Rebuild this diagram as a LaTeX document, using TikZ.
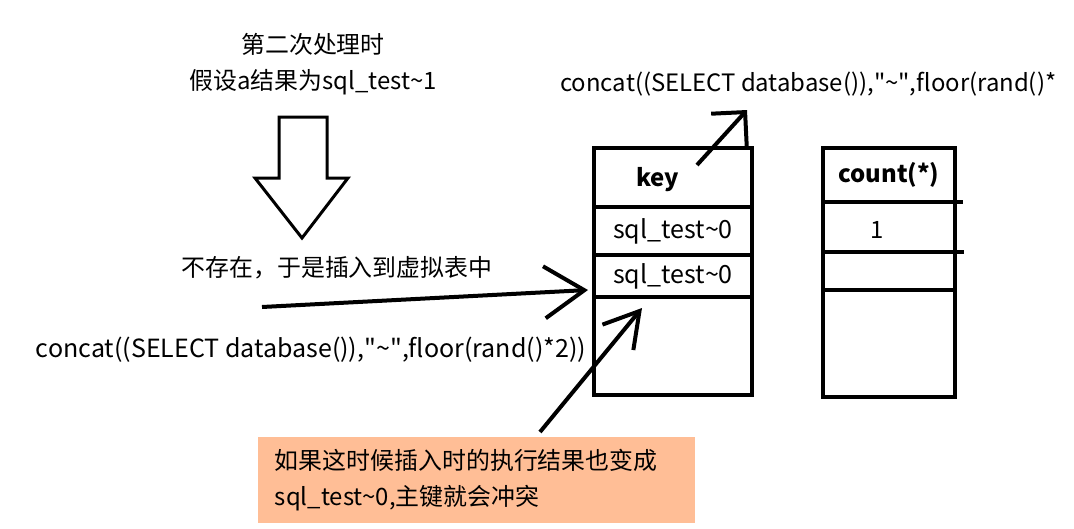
\documentclass[tikz,border=0pt]{standalone}
\usepackage{fontspec}
\setmainfont{Noto Sans CJK SC}
\usetikzlibrary{arrows.meta}
\usetikzlibrary{positioning}
\definecolor{notefill}{RGB}{255,190,150}
\tikzset{pen/.style = {line width=0.1cm, -{Straight Barb[length=0.8cm, width=1.2cm]}}}
\tikzset{cell/.style = {draw, line width=0.1cm, inner sep=0, outer sep=0}}
\tikzset{txt/.style = {inner sep=0, font=\fontsize{17}{25.5}\selectfont}}

\begin{document}
\begin{tikzpicture}[x=0.025cm, y=-0.025cm]
  \useasboundingbox (0,0) rectangle (1074,528);
  % hollow down arrow
  \draw [line width=0.075cm, line join=miter] (279,117) -- (327,117) -- (327,178) -- (348,178)
        -- (302,238) -- (255,178) -- (279,178) -- cycle;
  \node [txt, align=center] (second) at (313,64) {第二次处理时\\假设a结果为sql\_test\textasciitilde1};
  \node [txt] (notexist) at (337,268) {不存在，于是插入到虚拟表中};
  \node [txt, font = \fontsize{17.8}{25.5}\selectfont] (exprlow) at (311,350)
        {concat((SELECT database()),\textquotedbl\textasciitilde\textquotedbl,floor(rand()*2))};
  \node [txt, anchor = west] (exprtop) at (560,84)
        {concat((SELECT database()),\textquotedbl\textasciitilde\textquotedbl,floor(rand()*};
  % key column
  \node [cell, anchor = north, minimum width = 3.95cm, minimum height = 1.475cm] (khead) at (673,148) {};
  \node [cell, minimum width = 3.95cm, minimum height = 1.2cm, below = 0pt of khead, txt,
         font = \fontsize{17.8}{25.5}\selectfont] (krow1) {sql\_test\textasciitilde0};
  \node [cell, minimum width = 3.95cm, minimum height = 1.05cm, below = 0pt of krow1, txt,
         font = \fontsize{17.8}{25.5}\selectfont] (krow2) {sql\_test\textasciitilde0};
  \node [cell, minimum width = 3.95cm, minimum height = 2.45cm, below = 0pt of krow2] (krow3) {};
  \node [txt, font = \fontsize{17}{25.5}\selectfont\bfseries] (keytxt) at (658,180) {key};
  % count column
  \node [cell, anchor = north, minimum width = 3.3cm, minimum height = 1.35cm, txt,
         font = \fontsize{17}{25.5}\selectfont\bfseries] (chead) at (889,148) {count(*)};
  \node [cell, minimum width = 3.3cm, minimum height = 1.25cm, below = 0pt of chead] (crow1) {};
  \node [cell, minimum width = 3.3cm, minimum height = 0.95cm, below = 0pt of crow1] (crow2) {};
  \node [cell, minimum width = 3.3cm, minimum height = 2.675cm, below = 0pt of crow2] (crow3) {};
  \node [txt] (onetxt) at (877,230) {1};
  \draw [line width=0.1cm] (chead.south east) -- ++(8,0);
  \draw [line width=0.1cm] (crow1.south east) -- ++(9,0);
  % note
  \node [fill = notefill, minimum width = 10.925cm, minimum height = 2.15cm, inner xsep = 0.425cm,
         text width = 10.075cm, align = left, txt] (note) at (476.5,480)
        {如果这时候插入时的执行结果也变成\\sql\_test\textasciitilde0,主键就会冲突};
  % arrows
  \coordinate (insfrom) at (262,307);
  \coordinate (instip) at (588,290);
  \coordinate (upfrom) at (697,165);
  \coordinate (uptip) at (747,110);
  \coordinate (notefrom) at (540,432);
  \coordinate (notetip) at (642,308);
  \draw [pen, -{Straight Barb[length=1cm, width=1.3cm]}] (insfrom) -- (instip);
  \draw [pen, -{Straight Barb[length=0.6cm, width=1.2cm]}] (upfrom) -- (uptip);
  \draw [pen, -{Straight Barb[length=0.85cm, width=1cm]}] (notefrom) -- (notetip);
\end{tikzpicture}
\end{document}
